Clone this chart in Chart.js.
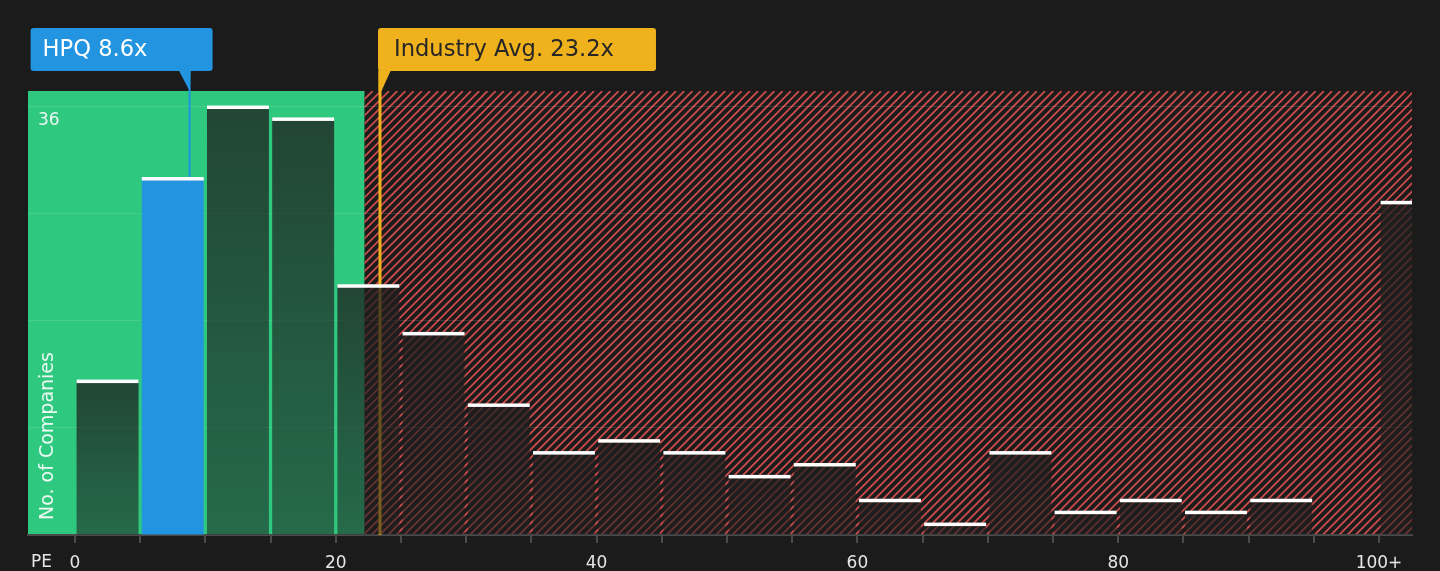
<!DOCTYPE html>
<html><head><meta charset="utf-8">
<style>html,body{margin:0;padding:0;background:#1b1b1b;overflow:hidden}canvas{display:block}</style>
<script src="https://cdn.jsdelivr.net/npm/chart.js@4.4.0/dist/chart.umd.min.js"></script>
</head><body>
<canvas id="c" width="1440" height="571" style="width:1440px;height:571px"></canvas>
<script>
// ---- data ----
const binStarts = [0,5,10,15,20,25,30,35,40,45,50,55,60,65,70,75,80,85,90,95,100];
const counts    = [13,30,36,35,21,17,11,7,8,7,5,6,3,1,7,2,3,2,3,0,28];
const binWidth = 5;
const xTickValues = [0,5,10,15,20,25,30,35,40,45,50,55,60,65,70,75,80,85,90,95,100];
const xTickLabels = {0:'0',20:'20',40:'40',60:'60',80:'80',100:'100+'};
const yTickValues = [0,9,18,27,36];
const yLabelShown = 36;
const companyName = 'HPQ';
const companyPE = 8.6;
const industryPE = 23.2;
const fairUpper = 22.2;
const companyBin = 1;

// ---- styles ----
const BG = '#1b1b1b', GREEN = '#2ec87f', BLUE = '#2394e0', GOLD = '#efb21d', HATCH = '#c84b4b';
Chart.defaults.font.family = "'DejaVu Sans', sans-serif";

const barData = binStarts.map((s, i) => ({x: s + binWidth / 2, y: counts[i]}));

function barFill(ctx) {
  if (ctx.dataIndex === companyBin) return BLUE;
  const ch = ctx.chart, ys = ch.scales.y;
  if (!ch.chartArea || !ys) return 'rgba(30,30,30,0.7)';
  const v = ctx.raw ? ctx.raw.y : 0;
  const top = ys.getPixelForValue(v), bot = ys.getPixelForValue(0);
  if (!(bot > top)) return 'rgba(30,30,30,0.7)';
  const g = ch.ctx.createLinearGradient(0, top, 0, bot);
  g.addColorStop(0, 'rgba(30,30,30,0.77)');
  g.addColorStop(1, 'rgba(30,30,30,0.55)');
  return g;
}

const MARK_SHIFT = 2.5;

const deco = {
  id: 'deco',
  beforeDraw(chart) {
    const c = chart.ctx, a = chart.chartArea, xs = chart.scales.x;
    c.save();
    c.fillStyle = BG; c.fillRect(0, 0, chart.width, chart.height);
    const xf = xs.getPixelForValue(fairUpper);
    c.fillStyle = GREEN; c.fillRect(a.left, a.top, xf - a.left, a.bottom - a.top);
    c.beginPath(); c.rect(xf, a.top, a.right - xf, a.bottom - a.top); c.clip();
    const H = a.bottom - a.top;
    c.strokeStyle = HATCH; c.lineWidth = 1.8;
    c.beginPath();
    for (let s = xf - H; s < a.right + 10; s += 8.2) {
      c.moveTo(s, a.bottom); c.lineTo(s + H, a.top);
    }
    c.stroke();
    c.restore();
  },
  beforeDatasetsDraw(chart) {
    const c = chart.ctx, a = chart.chartArea, xs = chart.scales.x, ys = chart.scales.y;
    c.save();
    const xi = xs.getPixelForValue(industryPE) + MARK_SHIFT;
    c.fillStyle = GOLD;
    c.fillRect(xi - 1.5, 71, 3, a.bottom - 71);
    const xc = xs.getPixelForValue(companyPE) + MARK_SHIFT;
    c.fillStyle = BLUE;
    c.fillRect(xc - 1, 71, 2, ys.getPixelForValue(counts[companyBin]) - 71);
    c.restore();
  },
  afterDatasetsDraw(chart) {
    const c = chart.ctx, a = chart.chartArea;
    const meta = chart.getDatasetMeta(0);
    c.save();
    c.beginPath(); c.rect(a.left, a.top - 5, a.right - a.left, a.bottom - a.top + 5); c.clip();
    c.fillStyle = '#ffffff';
    meta.data.forEach((el, i) => {
      if (!counts[i]) return;
      const p = el.getProps(['x', 'y', 'width'], true);
      c.fillRect(p.x - p.width / 2, p.y - 0.5, p.width, 3.5);
    });
    c.restore();
  },
  afterDraw(chart) {
    const c = chart.ctx, a = chart.chartArea, xs = chart.scales.x;
    c.save();
    const rr = (x, y, w, h, r) => { c.beginPath(); c.roundRect(x, y, w, h, r); c.fill(); };
    const xc = xs.getPixelForValue(companyPE) + MARK_SHIFT;
    c.fillStyle = BLUE;
    rr(xc - 159, 28, 182, 43, 3);
    c.beginPath(); c.moveTo(xc - 11, 70); c.lineTo(xc + 1, 70); c.lineTo(xc, a.top); c.closePath(); c.fill();
    c.font = "22.6px 'DejaVu Sans'"; c.textBaseline = 'middle'; c.textAlign = 'left';
    c.fillStyle = '#ffffff';
    c.fillText(companyName + ' ' + companyPE.toFixed(1) + 'x', xc - 147, 50);
    const xi = xs.getPixelForValue(industryPE) + MARK_SHIFT;
    c.fillStyle = GOLD;
    rr(xi - 2, 28, 278, 43, 3);
    c.beginPath(); c.moveTo(xi - 1.5, 70); c.lineTo(xi + 11, 70); c.lineTo(xi + 1.5, a.top); c.lineTo(xi - 1.5, a.top); c.closePath(); c.fill();
    c.fillStyle = '#262626';
    c.fillText('Industry Avg. ' + industryPE.toFixed(1) + 'x', xi + 14, 50);
    c.font = "17px 'DejaVu Sans'"; c.fillStyle = '#e6e6e6'; c.textAlign = 'left';
    c.fillText('PE', 31, 563);
    c.translate(48, a.bottom - 15);
    c.rotate(-Math.PI / 2);
    c.font = "19px 'DejaVu Sans'"; c.fillStyle = 'rgba(255,255,255,0.9)'; c.textAlign = 'left';
    c.fillText('No. of Companies', 0, 0);
    c.restore();
  }
};

new Chart(document.getElementById('c'), {
  type: 'bar',
  data: { datasets: [{ data: barData, backgroundColor: barFill, borderWidth: 0,
    categoryPercentage: 1, barPercentage: 0.95 }] },
  options: {
    responsive: false, animation: false, devicePixelRatio: 1,
    layout: { padding: { left: 28, right: 28, top: 91, bottom: 0 } },
    plugins: { legend: { display: false }, tooltip: { enabled: false } },
    scales: {
      x: {
        type: 'linear', min: -3.6, max: 102.53, offset: false,
        afterBuildTicks: s => { s.ticks = xTickValues.map(v => ({ value: v })); },
        afterFit: s => { s.height = 36; },
        grid: { display: true, drawOnChartArea: false, drawTicks: true, tickLength: 8, color: '#4a4a4a', lineWidth: 2, offset: false },
        border: { display: true, color: '#4a4a4a', width: 2 },
        ticks: { color: '#e6e6e6', font: { size: 17 }, padding: 10, maxRotation: 0, autoSkip: false,
          callback: v => (xTickLabels[v] !== undefined ? xTickLabels[v] : '') }
      },
      y: {
        min: 0, max: 37.26,
        afterBuildTicks: s => { s.ticks = yTickValues.map(v => ({ value: v })); },
        afterFit: s => { s.width = 0; },
        grid: { color: 'rgba(255,255,255,0.12)', lineWidth: 1, drawTicks: false },
        border: { display: false },
        ticks: { mirror: true, padding: 10, labelOffset: 15, color: 'rgba(255,255,255,0.9)', font: { size: 17 },
          callback: v => (v === yLabelShown ? String(v) : '') }
      }
    }
  },
  plugins: [deco]
});
</script>
</body></html>
